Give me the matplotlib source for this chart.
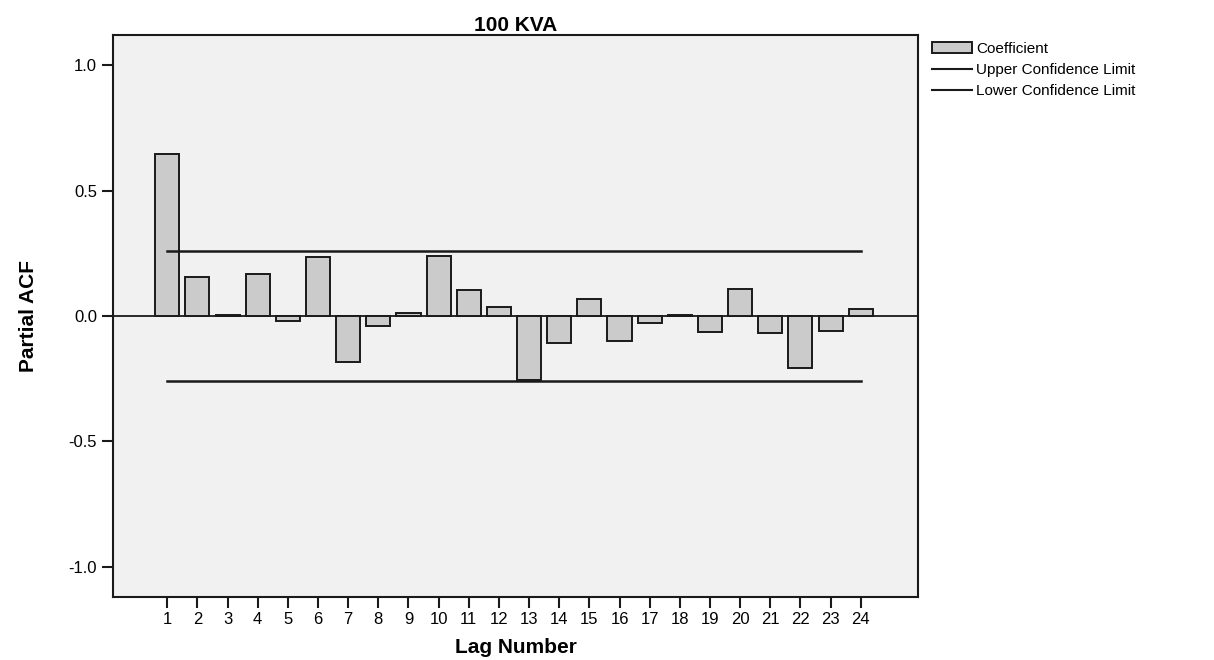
import matplotlib
matplotlib.use("Agg")
import matplotlib.pyplot as plt
from matplotlib.patches import Patch
from matplotlib.lines import Line2D

lags = list(range(1, 25))
pacf = [0.647, 0.154, 0.005, 0.166, -0.020, 0.234, -0.183, -0.041, 0.011, 0.239,
        0.104, 0.037, -0.256, -0.106, 0.069, -0.101, -0.028, 0.003, -0.062, 0.109,
        -0.069, -0.206, -0.060, 0.027]
upper_conf = 0.258
lower_conf = -0.258
yticks = [-1.0, -0.5, 0.0, 0.5, 1.0]

plt.rcParams['font.family'] = ['Liberation Sans', 'DejaVu Sans']

fig = plt.figure(figsize=(12.14, 6.60), dpi=100)
ax = fig.add_axes([113/1214, 1-597/660, (918-113)/1214, (597-35)/660])
ax.set_facecolor('#f1f1f1')

ax.bar(lags, pacf, width=0.8, color='#cbcbcb', edgecolor='#1a1a1a', linewidth=1.4, zorder=3)
ax.axhline(0, color='#1a1a1a', linewidth=1.3, zorder=2)
ax.plot([lags[0], lags[-1]], [upper_conf, upper_conf], color='#1a1a1a', linewidth=1.8, zorder=4)
ax.plot([lags[0], lags[-1]], [lower_conf, lower_conf], color='#1a1a1a', linewidth=1.8, zorder=4)

ax.set_xlim(-0.8, 25.9)
ax.set_ylim(-1.12, 1.12)
ax.set_xticks(lags)
ax.set_xticklabels([str(l) for l in lags], fontsize=12)
ax.set_yticks(yticks)
ax.set_yticklabels([f"{v:.1f}" for v in yticks], fontsize=12)
ax.tick_params(axis='both', direction='out', length=8, width=1.5, color='#1a1a1a')
ax.tick_params(axis='x', pad=3)
for s in ax.spines.values():
    s.set_linewidth(1.5)
    s.set_color('#1a1a1a')

ax.set_title('100 KVA', fontsize=15, fontweight='bold', pad=3)
ax.set_xlabel('Lag Number', fontsize=15, fontweight='bold', labelpad=8)
ax.set_ylabel('Partial ACF', fontsize=15, fontweight='bold', labelpad=22,
              family=['Liberation Sans Narrow', 'Liberation Sans', 'DejaVu Sans'])

handles = [Patch(facecolor='#cbcbcb', edgecolor='#1a1a1a', linewidth=1.4),
           Line2D([0], [0], color='#1a1a1a', linewidth=1.5),
           Line2D([0], [0], color='#1a1a1a', linewidth=1.5)]
labels = ['Coefficient', 'Upper Confidence Limit', 'Lower Confidence Limit']
fig.legend(handles, labels, loc='upper left', bbox_to_anchor=(926/1214, 1-36/660),
           frameon=False, fontsize=11, handlelength=2.6, handletextpad=0.3,
           labelspacing=0.45, borderaxespad=0)

fig.savefig('out.png', dpi=100)
